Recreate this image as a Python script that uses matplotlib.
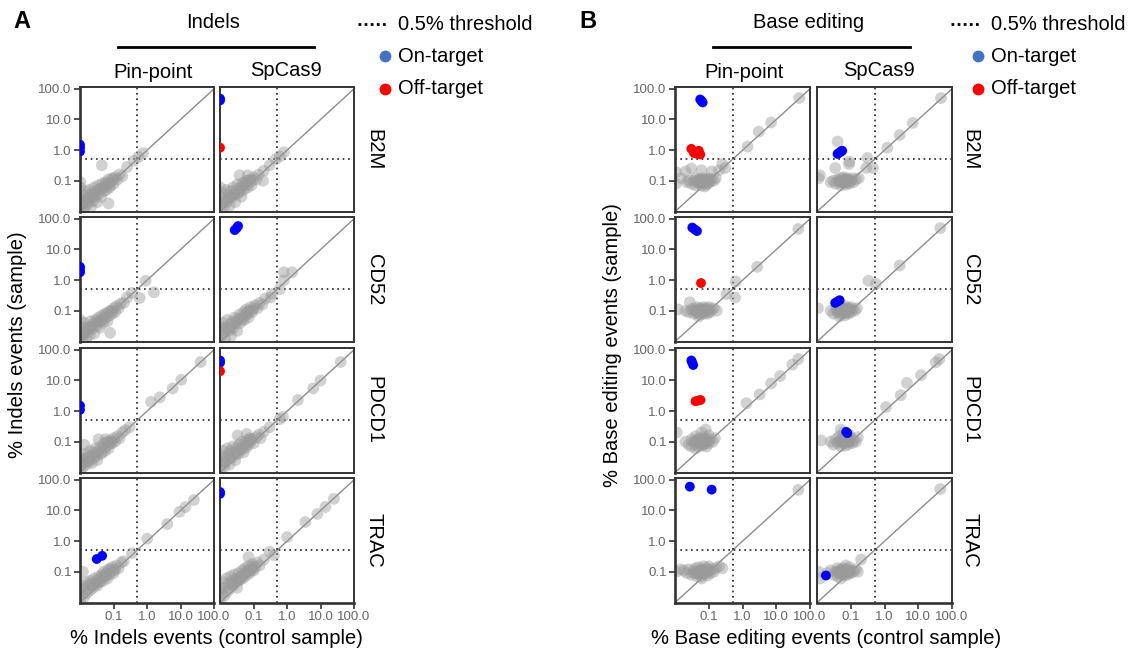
import matplotlib
matplotlib.use("Agg")
import matplotlib.pyplot as plt
from matplotlib.lines import Line2D

plt.rcParams['font.family'] = ['Liberation Sans', 'DejaVu Sans']

# ---- data: (control %, sample %) per site ----
genes = ["B2M", "CD52", "PDCD1", "TRAC"]
enzymes = ["Pin-point", "SpCas9"]
y_tick_vals = [0.1, 1.0, 10.0, 100.0]
y_tick_labels = ["0.1", "1.0", "10.0", "100.0"]
x_tick_vals = [0.1, 1.0, 10.0, 100.0]
x_tick_labels = ["0.1", "1.0", "10.0", "100.0"]
threshold = 0.5
zero_ctrl = 0.0098  # sites with no events in control sit on the left edge

# Indels, Pin-point
ind_pin_b2m_bg = [(0.010, 0.011), (0.010, 0.025), (0.011, 0.016), (0.012, 0.035), (0.012, 0.012), (0.013, 0.022),
                  (0.014, 0.045), (0.015, 0.015), (0.016, 0.028), (0.017, 0.018), (0.018, 0.05), (0.019, 0.024),
                  (0.02, 0.035), (0.021, 0.014), (0.023, 0.04), (0.024, 0.022), (0.026, 0.06), (0.028, 0.03),
                  (0.03, 0.045), (0.032, 0.02), (0.034, 0.07), (0.036, 0.038), (0.04, 0.055), (0.042, 0.03),
                  (0.045, 0.08), (0.05, 0.045), (0.052, 0.065), (0.058, 0.09), (0.06, 0.05), (0.065, 0.075),
                  (0.07, 0.11), (0.075, 0.06), (0.08, 0.09), (0.09, 0.12), (0.1, 0.08), (0.11, 0.13), (0.13, 0.11),
                  (0.15, 0.16), (0.18, 0.14), (0.07, 0.018), (0.044, 0.32), (0.25, 0.28), (0.4, 0.45), (0.55, 0.6),
                  (0.75, 0.8), (0.010, 0.06), (0.010, 0.09), (0.025, 0.03), (0.035, 0.05), (0.05, 0.06),
                  (0.06, 0.08), (0.08, 0.07), (0.1, 0.11), (0.015, 0.02)]
ind_pin_b2m_on = [(zero_ctrl, 1.5), (zero_ctrl, 1.2), (zero_ctrl, 0.9)]
ind_pin_b2m_off = []

ind_pin_cd52_bg = [(0.010, 0.012), (0.010, 0.03), (0.011, 0.02), (0.012, 0.014), (0.013, 0.04), (0.014, 0.025),
                   (0.015, 0.012), (0.016, 0.02), (0.018, 0.03), (0.019, 0.016), (0.02, 0.045), (0.022, 0.025),
                   (0.024, 0.035), (0.026, 0.018), (0.028, 0.05), (0.03, 0.03), (0.033, 0.04), (0.035, 0.06),
                   (0.038, 0.028), (0.04, 0.045), (0.045, 0.07), (0.048, 0.04), (0.05, 0.055), (0.055, 0.08),
                   (0.06, 0.06), (0.065, 0.045), (0.07, 0.09), (0.075, 0.07), (0.08, 0.1), (0.09, 0.08),
                   (0.1, 0.12), (0.11, 0.09), (0.12, 0.14), (0.14, 0.12), (0.16, 0.17), (0.2, 0.18), (0.25, 0.27),
                   (0.078, 0.019), (0.9, 0.95), (1.6, 0.4), (0.6, 0.26), (0.35, 0.38), (0.010, 0.05),
                   (0.02, 0.03), (0.03, 0.045), (0.045, 0.05), (0.06, 0.075), (0.09, 0.1), (0.013, 0.018)]
ind_pin_cd52_on = [(zero_ctrl, 2.7), (zero_ctrl, 2.2), (zero_ctrl, 1.8)]
ind_pin_cd52_off = []

ind_pin_pdcd1_bg = [(0.010, 0.011), (0.010, 0.02), (0.011, 0.03), (0.012, 0.015), (0.013, 0.025), (0.013, 0.08),
                    (0.014, 0.04), (0.015, 0.018), (0.016, 0.03), (0.018, 0.022), (0.019, 0.05), (0.02, 0.035),
                    (0.022, 0.02), (0.024, 0.045), (0.026, 0.03), (0.028, 0.06), (0.03, 0.04), (0.032, 0.025),
                    (0.035, 0.12), (0.036, 0.05), (0.04, 0.07), (0.042, 0.04), (0.045, 0.06), (0.05, 0.085),
                    (0.055, 0.05), (0.057, 0.12), (0.06, 0.07), (0.065, 0.1), (0.07, 0.06), (0.075, 0.085),
                    (0.08, 0.11), (0.09, 0.09), (0.1, 0.13), (0.11, 0.1), (0.13, 0.15), (0.15, 0.13), (0.18, 0.2),
                    (0.22, 0.24), (0.3, 0.3), (1.3, 2.0), (2.4, 2.8), (5.8, 5.5), (10.5, 10.5), (40.0, 40.0),
                    (0.02, 0.025), (0.03, 0.035), (0.045, 0.045), (0.06, 0.09), (0.085, 0.1), (0.012, 0.02)]
ind_pin_pdcd1_on = [(zero_ctrl, 1.5), (zero_ctrl, 1.1)]
ind_pin_pdcd1_off = []

ind_pin_trac_bg = [(0.010, 0.012), (0.010, 0.025), (0.011, 0.018), (0.012, 0.1), (0.012, 0.035), (0.013, 0.015),
                   (0.014, 0.028), (0.015, 0.045), (0.016, 0.02), (0.018, 0.035), (0.02, 0.025), (0.02, 0.05),
                   (0.022, 0.04), (0.024, 0.03), (0.026, 0.06), (0.028, 0.04), (0.03, 0.05), (0.032, 0.035),
                   (0.035, 0.07), (0.038, 0.045), (0.04, 0.06), (0.045, 0.08), (0.048, 0.05), (0.05, 0.1),
                   (0.055, 0.07), (0.06, 0.09), (0.065, 0.06), (0.07, 0.12), (0.075, 0.08), (0.08, 0.1),
                   (0.09, 0.14), (0.1, 0.09), (0.11, 0.12), (0.12, 0.16), (0.14, 0.13), (0.17, 0.2), (0.2, 0.22),
                   (0.35, 0.4), (1.0, 1.2), (4.0, 3.6), (9.3, 9.0), (14.0, 13.0), (25.0, 22.0),
                   (0.03, 0.04), (0.04, 0.05), (0.05, 0.07), (0.065, 0.08), (0.08, 0.12), (0.1, 0.11)]
ind_pin_trac_on = [(0.031, 0.26), (0.045, 0.33)]
ind_pin_trac_off = []

# Indels, SpCas9
ind_sp_b2m_bg = [(0.010, 0.012), (0.010, 0.03), (0.010, 0.06), (0.011, 0.018), (0.012, 0.04), (0.013, 0.014),
                 (0.014, 0.025), (0.015, 0.05), (0.016, 0.02), (0.018, 0.035), (0.019, 0.015), (0.02, 0.045),
                 (0.022, 0.028), (0.024, 0.06), (0.026, 0.035), (0.028, 0.02), (0.03, 0.05), (0.032, 0.075),
                 (0.035, 0.04), (0.038, 0.15), (0.04, 0.06), (0.043, 0.03), (0.046, 0.085), (0.05, 0.05),
                 (0.055, 0.07), (0.06, 0.1), (0.066, 0.15), (0.065, 0.06), (0.07, 0.08), (0.08, 0.11),
                 (0.085, 0.07), (0.09, 0.1), (0.1, 0.13), (0.12, 0.11), (0.14, 0.16), (0.19, 0.1), (0.2, 0.21),
                 (0.3, 0.32), (0.45, 0.5), (0.6, 0.62), (0.8, 0.85), (0.02, 0.03), (0.03, 0.035),
                 (0.04, 0.045), (0.05, 0.07), (0.07, 0.1), (0.012, 0.02)]
ind_sp_b2m_on = [(zero_ctrl, 48.0), (zero_ctrl, 42.0)]
ind_sp_b2m_off = [(zero_ctrl, 1.2)]

ind_sp_cd52_bg = [(0.010, 0.011), (0.010, 0.028), (0.011, 0.016), (0.012, 0.04), (0.013, 0.02), (0.014, 0.012),
                  (0.015, 0.03), (0.016, 0.05), (0.018, 0.022), (0.02, 0.035), (0.021, 0.015), (0.023, 0.045),
                  (0.025, 0.028), (0.027, 0.06), (0.03, 0.038), (0.032, 0.022), (0.035, 0.055), (0.038, 0.075),
                  (0.04, 0.04), (0.045, 0.06), (0.05, 0.09), (0.052, 0.05), (0.058, 0.07), (0.06, 0.11),
                  (0.065, 0.08), (0.07, 0.06), (0.075, 0.1), (0.08, 0.13), (0.09, 0.09), (0.1, 0.12),
                  (0.11, 0.15), (0.13, 0.12), (0.15, 0.18), (0.18, 0.16), (0.22, 0.25), (0.32, 0.27),
                  (0.35, 0.36), (0.6, 0.5), (0.8, 1.0), (0.8, 1.8), (1.4, 1.8), (0.02, 0.025),
                  (0.03, 0.045), (0.045, 0.05), (0.06, 0.085), (0.085, 0.1), (0.012, 0.025)]
ind_sp_cd52_on = [(0.027, 43.0), (0.031, 50.0), (0.034, 58.0)]
ind_sp_cd52_off = []

ind_sp_pdcd1_bg = [(0.010, 0.012), (0.010, 0.035), (0.011, 0.02), (0.012, 0.05), (0.013, 0.015), (0.014, 0.03),
                   (0.015, 0.022), (0.016, 0.06), (0.018, 0.04), (0.019, 0.018), (0.02, 0.05), (0.022, 0.03),
                   (0.024, 0.07), (0.026, 0.045), (0.028, 0.025), (0.03, 0.06), (0.033, 0.16), (0.034, 0.04),
                   (0.036, 0.08), (0.04, 0.055), (0.043, 0.1), (0.046, 0.07), (0.05, 0.045), (0.055, 0.09),
                   (0.06, 0.065), (0.062, 0.18), (0.065, 0.11), (0.07, 0.08), (0.075, 0.13), (0.08, 0.1),
                   (0.09, 0.12), (0.1, 0.09), (0.12, 0.14), (0.14, 0.17), (0.16, 0.13), (0.2, 0.21), (0.3, 0.3),
                   (0.6, 0.55), (0.75, 0.65), (2.1, 2.3), (6.0, 5.5), (10.0, 10.0), (40.0, 40.0),
                   (0.02, 0.03), (0.03, 0.04), (0.045, 0.055), (0.06, 0.08), (0.08, 0.12), (0.013, 0.022)]
ind_sp_pdcd1_on = [(zero_ctrl, 45.0), (zero_ctrl, 38.0)]
ind_sp_pdcd1_off = [(zero_ctrl, 20.0)]

ind_sp_trac_bg = [(0.010, 0.014), (0.010, 0.03), (0.011, 0.02), (0.012, 0.045), (0.013, 0.016), (0.014, 0.03),
                  (0.015, 0.06), (0.016, 0.022), (0.018, 0.04), (0.02, 0.028), (0.02, 0.07), (0.022, 0.05),
                  (0.024, 0.035), (0.026, 0.08), (0.028, 0.045), (0.03, 0.06), (0.032, 0.03), (0.035, 0.09),
                  (0.038, 0.055), (0.04, 0.07), (0.045, 0.11), (0.048, 0.06), (0.05, 0.085), (0.055, 0.13),
                  (0.06, 0.075), (0.065, 0.1), (0.07, 0.3), (0.07, 0.15), (0.075, 0.09), (0.08, 0.12),
                  (0.09, 0.18), (0.1, 0.11), (0.11, 0.14), (0.13, 0.2), (0.15, 0.16), (0.2, 0.25), (0.3, 0.45),
                  (0.4, 0.35), (1.0, 1.35), (3.5, 4.2), (8.0, 7.7), (14.0, 13.0), (25.0, 24.0),
                  (0.025, 0.04), (0.035, 0.05), (0.045, 0.07), (0.06, 0.1), (0.085, 0.11), (0.1, 0.15)]
ind_sp_trac_on = [(zero_ctrl, 40.0), (zero_ctrl, 35.0)]
ind_sp_trac_off = []

# Base editing, Pin-point
be_pin_b2m_bg = [(0.0105, 0.19), (0.0105, 0.08), (0.015, 0.12), (0.02, 0.2), (0.022, 0.09), (0.025, 0.1),
                 (0.03, 0.25), (0.03, 0.08), (0.035, 0.1), (0.04, 0.07), (0.04, 0.12), (0.045, 0.09),
                 (0.05, 0.08), (0.05, 0.11), (0.055, 0.1), (0.06, 0.07), (0.06, 0.09), (0.06, 0.22),
                 (0.065, 0.12), (0.07, 0.08), (0.07, 0.1), (0.075, 0.065), (0.08, 0.11), (0.08, 0.09),
                 (0.085, 0.075), (0.09, 0.1), (0.1, 0.085), (0.1, 0.12), (0.11, 0.095), (0.12, 0.2),
                 (0.12, 0.11), (0.14, 0.1), (0.16, 0.12), (0.2, 0.22), (0.3, 0.26), (0.25, 0.35), (1.4, 1.3),
                 (3.0, 4.0), (7.0, 8.0), (48.0, 50.0), (0.045, 0.1), (0.055, 0.085), (0.065, 0.095),
                 (0.075, 0.1), (0.085, 0.09), (0.05, 0.095), (0.07, 0.09), (0.06, 0.11), (0.08, 0.1),
                 (0.095, 0.11)]
be_pin_b2m_on = [(0.055, 45.0), (0.06, 40.0), (0.065, 36.0)]
be_pin_b2m_off = [(0.03, 1.1), (0.036, 0.8), (0.045, 0.75), (0.05, 0.95), (0.055, 0.72)]

be_pin_cd52_bg = [(0.012, 0.11), (0.02, 0.1), (0.025, 0.09), (0.027, 0.19), (0.03, 0.11), (0.035, 0.08),
                  (0.035, 0.12), (0.04, 0.1), (0.045, 0.085), (0.045, 0.13), (0.05, 0.1), (0.055, 0.075),
                  (0.055, 0.12), (0.06, 0.09), (0.065, 0.11), (0.07, 0.08), (0.07, 0.13), (0.075, 0.1),
                  (0.08, 0.09), (0.085, 0.12), (0.09, 0.08), (0.1, 0.1), (0.1, 0.13), (0.11, 0.09),
                  (0.12, 0.11), (0.14, 0.12), (0.17, 0.1), (0.05, 0.065), (0.33, 0.35), (0.6, 0.27),
                  (0.62, 0.9), (2.7, 2.7), (45.0, 47.0), (0.04, 0.09), (0.05, 0.11), (0.06, 0.1),
                  (0.065, 0.09), (0.075, 0.11), (0.08, 0.1), (0.09, 0.105), (0.055, 0.095), (0.07, 0.1),
                  (0.045, 0.1)]
be_pin_cd52_on = [(0.032, 52.0), (0.038, 45.0), (0.044, 40.0)]
be_pin_cd52_off = [(0.058, 0.8)]

be_pin_pdcd1_bg = [(0.011, 0.2), (0.02, 0.1), (0.025, 0.08), (0.03, 0.12), (0.03, 0.07), (0.035, 0.1),
                   (0.04, 0.15), (0.04, 0.08), (0.045, 0.11), (0.05, 0.07), (0.05, 0.13), (0.055, 0.09),
                   (0.06, 0.2), (0.06, 0.11), (0.065, 0.075), (0.07, 0.1), (0.07, 0.14), (0.075, 0.085),
                   (0.08, 0.12), (0.085, 0.07), (0.09, 0.1), (0.1, 0.16), (0.1, 0.09), (0.11, 0.12),
                   (0.13, 0.1), (0.15, 0.13), (0.04, 0.06), (0.08, 0.25), (1.3, 1.8), (3.2, 3.5), (7.0, 8.0),
                   (13.0, 14.0), (30.0, 33.0), (45.0, 50.0), (0.04, 0.1), (0.045, 0.09), (0.05, 0.1),
                   (0.055, 0.12), (0.06, 0.095), (0.065, 0.105), (0.07, 0.09), (0.075, 0.11), (0.08, 0.1),
                   (0.06, 0.08)]
be_pin_pdcd1_on = [(0.03, 45.0), (0.032, 38.0), (0.034, 32.0)]
be_pin_pdcd1_off = [(0.04, 2.1), (0.048, 2.2), (0.056, 2.3)]

be_pin_trac_bg = [(0.011, 0.1), (0.014, 0.12), (0.018, 0.11), (0.022, 0.09), (0.025, 0.12), (0.03, 0.08),
                  (0.035, 0.11), (0.04, 0.09), (0.04, 0.13), (0.045, 0.07), (0.05, 0.1), (0.05, 0.14),
                  (0.055, 0.085), (0.06, 0.12), (0.06, 0.07), (0.065, 0.1), (0.07, 0.15), (0.07, 0.085),
                  (0.075, 0.11), (0.08, 0.09), (0.085, 0.13), (0.09, 0.075), (0.1, 0.11), (0.1, 0.15),
                  (0.11, 0.09), (0.12, 0.12), (0.14, 0.1), (0.16, 0.13), (0.2, 0.15), (0.25, 0.13),
                  (0.06, 0.06), (45.0, 47.0), (0.045, 0.1), (0.05, 0.09), (0.055, 0.11), (0.065, 0.09),
                  (0.07, 0.1), (0.075, 0.095), (0.08, 0.11), (0.09, 0.1), (0.06, 0.1), (0.035, 0.09)]
be_pin_trac_on = [(0.027, 60.0), (0.12, 48.0)]
be_pin_trac_off = []

# Base editing, SpCas9
be_sp_b2m_bg = [(0.011, 0.12), (0.012, 0.15), (0.025, 0.09), (0.03, 0.1), (0.034, 0.26), (0.035, 0.08),
                (0.04, 1.9), (0.04, 0.11), (0.045, 0.09), (0.05, 0.07), (0.05, 0.12), (0.055, 0.1),
                (0.06, 0.085), (0.06, 0.13), (0.065, 0.11), (0.07, 0.075), (0.07, 0.1), (0.075, 0.12),
                (0.08, 0.09), (0.085, 0.11), (0.088, 0.35), (0.09, 0.42), (0.09, 0.08), (0.1, 0.1),
                (0.11, 0.12), (0.12, 0.09), (0.14, 0.11), (0.17, 0.12), (0.28, 0.26), (0.45, 0.26),
                (0.31, 0.55), (1.2, 1.2), (2.8, 3.1), (6.8, 7.7), (47.0, 50.0), (0.045, 0.1),
                (0.055, 0.09), (0.06, 0.1), (0.065, 0.095), (0.075, 0.1), (0.08, 0.105), (0.095, 0.095),
                (0.05, 0.1), (0.07, 0.09)]
be_sp_b2m_on = [(0.04, 0.75), (0.045, 0.82), (0.05, 0.9), (0.055, 0.95)]
be_sp_b2m_off = []

be_sp_cd52_bg = [(0.0105, 0.12), (0.025, 0.1), (0.03, 0.08), (0.035, 0.11), (0.04, 0.09), (0.045, 0.12),
                 (0.05, 0.075), (0.05, 0.1), (0.055, 0.13), (0.06, 0.085), (0.06, 0.11), (0.065, 0.07),
                 (0.07, 0.1), (0.07, 0.14), (0.075, 0.09), (0.08, 0.12), (0.085, 0.08), (0.09, 0.1),
                 (0.1, 0.13), (0.1, 0.09), (0.11, 0.11), (0.13, 0.1), (0.15, 0.12), (0.045, 0.065),
                 (0.33, 0.95), (0.55, 0.75), (2.8, 3.0), (45.0, 50.0), (0.045, 0.1), (0.055, 0.09),
                 (0.06, 0.1), (0.065, 0.12), (0.07, 0.085), (0.075, 0.11), (0.08, 0.1), (0.09, 0.115),
                 (0.055, 0.11), (0.04, 0.105)]
be_sp_cd52_on = [(0.034, 0.18), (0.04, 0.2), (0.046, 0.22)]
be_sp_cd52_off = []

be_sp_pdcd1_bg = [(0.013, 0.11), (0.025, 0.1), (0.03, 0.08), (0.035, 0.12), (0.04, 0.09), (0.045, 0.15),
                  (0.05, 0.07), (0.05, 0.11), (0.055, 0.13), (0.06, 0.09), (0.06, 0.2), (0.065, 0.11),
                  (0.07, 0.075), (0.07, 0.15), (0.075, 0.1), (0.08, 0.12), (0.085, 0.085), (0.09, 0.17),
                  (0.09, 0.1), (0.1, 0.13), (0.11, 0.09), (0.12, 0.11), (0.14, 0.1), (0.16, 0.14),
                  (0.05, 0.25), (1.1, 1.35), (3.0, 3.3), (4.6, 8.3), (12.0, 15.0), (33.0, 39.0), (42.0, 50.0),
                  (0.045, 0.1), (0.055, 0.1), (0.06, 0.12), (0.065, 0.095), (0.07, 0.11), (0.08, 0.1),
                  (0.085, 0.11), (0.06, 0.105), (0.075, 0.13)]
be_sp_pdcd1_on = [(0.072, 0.21), (0.078, 0.19)]
be_sp_pdcd1_off = []

be_sp_trac_bg = [(0.011, 0.1), (0.012, 0.06), (0.02, 0.09), (0.025, 0.11), (0.03, 0.08), (0.035, 0.1),
                 (0.04, 0.13), (0.04, 0.07), (0.045, 0.09), (0.05, 0.11), (0.05, 0.06), (0.055, 0.08),
                 (0.06, 0.1), (0.06, 0.13), (0.065, 0.075), (0.07, 0.09), (0.075, 0.12), (0.08, 0.08),
                 (0.085, 0.1), (0.09, 0.14), (0.1, 0.09), (0.1, 0.11), (0.12, 0.1), (0.14, 0.12),
                 (0.16, 0.1), (0.2, 0.25), (0.07, 0.16), (45.0, 50.0), (0.04, 0.1), (0.05, 0.09),
                 (0.055, 0.1), (0.06, 0.085), (0.065, 0.11), (0.07, 0.1), (0.075, 0.095), (0.08, 0.105),
                 (0.09, 0.095), (0.05, 0.12)]
be_sp_trac_on = [(0.018, 0.075)]
be_sp_trac_off = []

indel_panels = {
    ("B2M", 0): (ind_pin_b2m_bg, ind_pin_b2m_on, ind_pin_b2m_off),
    ("CD52", 0): (ind_pin_cd52_bg, ind_pin_cd52_on, ind_pin_cd52_off),
    ("PDCD1", 0): (ind_pin_pdcd1_bg, ind_pin_pdcd1_on, ind_pin_pdcd1_off),
    ("TRAC", 0): (ind_pin_trac_bg, ind_pin_trac_on, ind_pin_trac_off),
    ("B2M", 1): (ind_sp_b2m_bg, ind_sp_b2m_on, ind_sp_b2m_off),
    ("CD52", 1): (ind_sp_cd52_bg, ind_sp_cd52_on, ind_sp_cd52_off),
    ("PDCD1", 1): (ind_sp_pdcd1_bg, ind_sp_pdcd1_on, ind_sp_pdcd1_off),
    ("TRAC", 1): (ind_sp_trac_bg, ind_sp_trac_on, ind_sp_trac_off),
}
be_panels = {
    ("B2M", 0): (be_pin_b2m_bg, be_pin_b2m_on, be_pin_b2m_off),
    ("CD52", 0): (be_pin_cd52_bg, be_pin_cd52_on, be_pin_cd52_off),
    ("PDCD1", 0): (be_pin_pdcd1_bg, be_pin_pdcd1_on, be_pin_pdcd1_off),
    ("TRAC", 0): (be_pin_trac_bg, be_pin_trac_on, be_pin_trac_off),
    ("B2M", 1): (be_sp_b2m_bg, be_sp_b2m_on, be_sp_b2m_off),
    ("CD52", 1): (be_sp_cd52_bg, be_sp_cd52_on, be_sp_cd52_off),
    ("PDCD1", 1): (be_sp_pdcd1_bg, be_sp_pdcd1_on, be_sp_pdcd1_off),
    ("TRAC", 1): (be_sp_trac_bg, be_sp_trac_on, be_sp_trac_off),
}

# ---- layout (pixels) ----
W, H = 1129, 657
fig = plt.figure(figsize=(W / 100, H / 100), dpi=100)

row_tops = [87, 217, 348, 478]
row_h = 125
XLIM = (0.0098, 100)
YLIM = (0.0095, 115)


def rect(left, top, w, h):
    return [left / W, 1 - (top + h) / H, w / W, h / H]


def fx(px):
    return px / W


def fy(py):
    return 1 - py / H


def draw_block(panels, col_lefts, col_w):
    for r, gene in enumerate(genes):
        for c in range(2):
            ax = fig.add_axes(rect(col_lefts[c], row_tops[r], col_w, row_h))
            ax.set_xscale("log")
            ax.set_yscale("log")
            ax.set_xlim(*XLIM)
            ax.set_ylim(*YLIM)
            bg, on, off = panels[(gene, c)]
            ax.plot([0.001, 1000], [0.001, 1000], color="#8c8c8c", lw=1.0, zorder=1)
            ax.axvline(threshold, color="#222222", ls=(0, (1, 2.2)), lw=1.2, zorder=1)
            ax.axhline(threshold, color="#222222", ls=(0, (1, 2.2)), lw=1.2, zorder=1)
            bx, by = zip(*bg)
            ax.scatter(bx, by, s=72, color="#9a9a9a", alpha=0.45, edgecolors="none", zorder=2)
            if on:
                ox, oy = zip(*on)
                ax.scatter(ox, oy, s=50, color="#0000ff", edgecolors="none", zorder=3)
            if off:
                rx, ry = zip(*off)
                ax.scatter(rx, ry, s=50, color="#ff0000", edgecolors="none", zorder=3)
            for sp in ax.spines.values():
                sp.set_color("#333333")
                sp.set_linewidth(1.4)
            ax.minorticks_off()
            ax.tick_params(direction="out", length=4, width=1.2, color="#333333",
                           labelcolor="#666666", labelsize=9.5, pad=2)
            if c == 0:
                ax.set_yticks(y_tick_vals)
                ax.set_yticklabels(y_tick_labels)
                ax.spines["left"].set_linewidth(1.9)
            else:
                ax.set_yticks([])
            if r == 3:
                ax.set_xticks(x_tick_vals)
                ax.set_xticklabels(x_tick_labels)
                ax.spines["bottom"].set_linewidth(1.9)
            else:
                ax.set_xticks([])


draw_block(indel_panels, [80, 220], 134)
draw_block(be_panels, [675, 817], 135)

FS = 14.5


def header(letter, lx, title, tx, line_x0, line_x1, pin_x, sp_x, row_x, ylab, ylab_x, xlab, xlab_x, leg_x):
    fig.text(fx(lx), fy(22), letter, fontsize=17, fontweight="bold", ha="center", va="center")
    fig.text(fx(tx), fy(22), title, fontsize=FS, ha="center", va="center")
    fig.add_artist(Line2D([fx(line_x0), fx(line_x1)], [fy(47), fy(47)], color="black", lw=2.0))
    fig.text(fx(pin_x), fy(73), enzymes[0], fontsize=FS, ha="center", va="center")
    fig.text(fx(sp_x), fy(71), enzymes[1], fontsize=FS, ha="center", va="center")
    for r, gene in enumerate(genes):
        fig.text(fx(row_x), fy(row_tops[r] + row_h / 2), gene, fontsize=FS, rotation=-90,
                 ha="center", va="center")
    fig.text(fx(ylab_x), fy(345), ylab, fontsize=FS, rotation=90, ha="center", va="center")
    fig.text(fx(xlab_x), fy(638), xlab, fontsize=FS, ha="center", va="center")
    # legend
    fig.add_artist(Line2D([fx(leg_x - 40), fx(leg_x - 12)], [fy(24), fy(24)], color="black",
                          ls=(0, (1, 1.2)), lw=2.0))
    fig.text(fx(leg_x), fy(24), "0.5% threshold", fontsize=FS, ha="left", va="center")
    fig.add_artist(Line2D([fx(leg_x - 13)], [fy(56)], marker="o", ms=7.5, color="#4472c4", ls="none"))
    fig.text(fx(leg_x), fy(56), "On-target", fontsize=FS, ha="left", va="center")
    fig.add_artist(Line2D([fx(leg_x - 13)], [fy(89)], marker="o", ms=7.5, color="#ff0000", ls="none"))
    fig.text(fx(leg_x), fy(89), "Off-target", fontsize=FS, ha="left", va="center")


header("A", 22, "Indels", 213, 118, 314, 153, 286, 374,
       "% Indels events (sample)", 18, "% Indels events (control sample)", 216, 398)
header("B", 588, "Base editing", 809, 713, 910, 744, 879, 970,
       "% Base editing events (sample)", 612, "% Base editing events (control sample)", 826, 991)

fig.savefig("out.png", dpi=100)
